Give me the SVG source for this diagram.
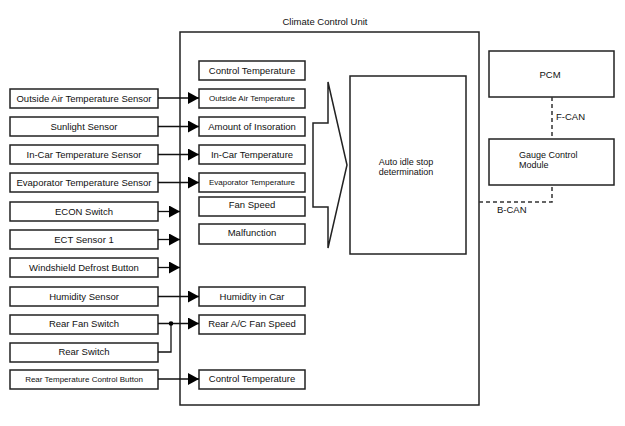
<svg xmlns="http://www.w3.org/2000/svg" width="625" height="426" viewBox="0 0 625 426">
<defs>
<style>
text{font-family:"Liberation Sans",Arial,sans-serif;font-size:9.5px;fill:#111}
.b{fill:#fff;stroke:#222;stroke-width:1.5}
.s{font-size:8px}
.t{font-size:9px}
.c{text-anchor:middle}
.ln{stroke:#111;stroke-width:1.3;fill:none}
.d{stroke:#333;stroke-width:1.5;fill:none;stroke-dasharray:4 3}
</style>
<marker id="ah" markerUnits="userSpaceOnUse" markerWidth="11" markerHeight="12" refX="11" refY="6" orient="auto">
<path d="M0,0 L11,6 L0,12 Z" fill="#000"/>
</marker>
</defs>
<rect width="625" height="426" fill="#fff"/>

<g id="ccu">
<rect x="180" y="32" width="299" height="373" fill="none" stroke="#222" stroke-width="1.5"/>
<text x="325" y="25" class="c">Climate Control Unit</text>
</g>

<g id="left-nodes">
<g id="n-oat"><rect class="b" x="10" y="89" width="148" height="19"/><text x="84" y="102" class="c">Outside Air Temperature Sensor</text></g>
<g id="n-sun"><rect class="b" x="10" y="117" width="148" height="19"/><text x="84" y="130" class="c">Sunlight Sensor</text></g>
<g id="n-incar"><rect class="b" x="10" y="145" width="148" height="19"/><text x="84" y="158" class="c">In-Car Temperature Sensor</text></g>
<g id="n-evap"><rect class="b" x="10" y="173" width="148" height="19"/><text x="84" y="186" class="c">Evaporator Temperature Sensor</text></g>
<g id="n-econ"><rect class="b" x="10" y="202" width="148" height="19"/><text x="84" y="215" class="c">ECON Switch</text></g>
<g id="n-ect"><rect class="b" x="10" y="230" width="148" height="19"/><text x="84" y="243" class="c">ECT Sensor 1</text></g>
<g id="n-wsd"><rect class="b" x="10" y="258" width="148" height="19"/><text x="84" y="271" class="c">Windshield Defrost Button</text></g>
<g id="n-hum"><rect class="b" x="10" y="287" width="148" height="19"/><text x="84" y="300" class="c">Humidity Sensor</text></g>
<g id="n-rfan"><rect class="b" x="10" y="315" width="148" height="19"/><text x="84" y="327" class="c">Rear Fan Switch</text></g>
<g id="n-rsw"><rect class="b" x="10" y="343" width="148" height="19"/><text x="84" y="355" class="c">Rear Switch</text></g>
<g id="n-rtc"><rect class="b" x="10" y="370" width="148" height="19"/><text x="84" y="382" class="c s">Rear Temperature Control Button</text></g>
</g>

<g id="inner-nodes">
<g id="i-ct1"><rect class="b" x="199" y="61" width="106" height="19"/><text x="252" y="74" class="c">Control Temperature</text></g>
<g id="i-oat"><rect class="b" x="199" y="89" width="106" height="19"/><text x="252" y="101" class="c s">Outside Air Temperature</text></g>
<g id="i-ins"><rect class="b" x="199" y="117" width="106" height="19"/><text x="252" y="130" class="c">Amount of Insoration</text></g>
<g id="i-incar"><rect class="b" x="199" y="145" width="106" height="19"/><text x="252" y="158" class="c">In-Car Temperature</text></g>
<g id="i-evap"><rect class="b" x="199" y="173" width="106" height="19"/><text x="252" y="185" class="c s">Evaporator Temperature</text></g>
<g id="i-fan"><rect class="b" x="199" y="197" width="106" height="19"/><text x="252" y="208" class="c">Fan Speed</text></g>
<g id="i-mal"><rect class="b" x="199" y="224" width="106" height="20"/><text x="252" y="236" class="c">Malfunction</text></g>
<g id="i-hum"><rect class="b" x="199" y="287" width="106" height="19"/><text x="252" y="300" class="c">Humidity in Car</text></g>
<g id="i-rac"><rect class="b" x="199" y="315" width="106" height="19"/><text x="252" y="327" class="c">Rear A/C Fan Speed</text></g>
<g id="i-ct2"><rect class="b" x="199" y="370" width="106" height="19"/><text x="252" y="382" class="c">Control Temperature</text></g>
</g>

<g id="big-arrow">
<polygon points="313,123 328,123 328,82 347,165 328,248 328,207 313,207" fill="none" stroke="#222" stroke-width="1.5"/>
</g>

<g id="auto-idle">
<rect class="b" x="350" y="76" width="116" height="178"/>
<text x="406" y="165" class="c t">Auto idle stop</text>
<text x="406" y="175" class="c t">determination</text>
</g>

<g id="pcm">
<rect class="b" x="489" y="51" width="125" height="46"/>
<text x="550" y="78" class="c">PCM</text>
</g>

<g id="gcm">
<rect class="b" x="489" y="139" width="125" height="46"/>
<text x="519" y="158" class="t">Gauge Control</text>
<text x="519" y="168" class="t">Module</text>
</g>

<g id="connectors">
<line class="ln" x1="158" y1="98" x2="199" y2="98" marker-end="url(#ah)"/>
<line class="ln" x1="158" y1="126.5" x2="199" y2="126.5" marker-end="url(#ah)"/>
<line class="ln" x1="158" y1="154.5" x2="199" y2="154.5" marker-end="url(#ah)"/>
<line class="ln" x1="158" y1="182.5" x2="199" y2="182.5" marker-end="url(#ah)"/>
<line class="ln" x1="158" y1="211.5" x2="180" y2="211.5" marker-end="url(#ah)"/>
<line class="ln" x1="158" y1="239.5" x2="180" y2="239.5" marker-end="url(#ah)"/>
<line class="ln" x1="158" y1="267.5" x2="180" y2="267.5" marker-end="url(#ah)"/>
<line class="ln" x1="158" y1="296.5" x2="199" y2="296.5" marker-end="url(#ah)"/>
<line class="ln" x1="158" y1="323.5" x2="199" y2="323.5" marker-end="url(#ah)"/>
<polyline class="ln" points="158,352 171,352 171,323.5"/>
<circle cx="171" cy="323.5" r="2.3" fill="#000"/>
<line class="ln" x1="158" y1="379" x2="199" y2="379" marker-end="url(#ah)"/>
<line class="d" x1="552" y1="97" x2="552" y2="139"/>
<polyline class="d" points="479,202 552,202 552,185"/>
<text x="556" y="120">F-CAN</text>
<text x="497" y="213">B-CAN</text>
</g>
</svg>
